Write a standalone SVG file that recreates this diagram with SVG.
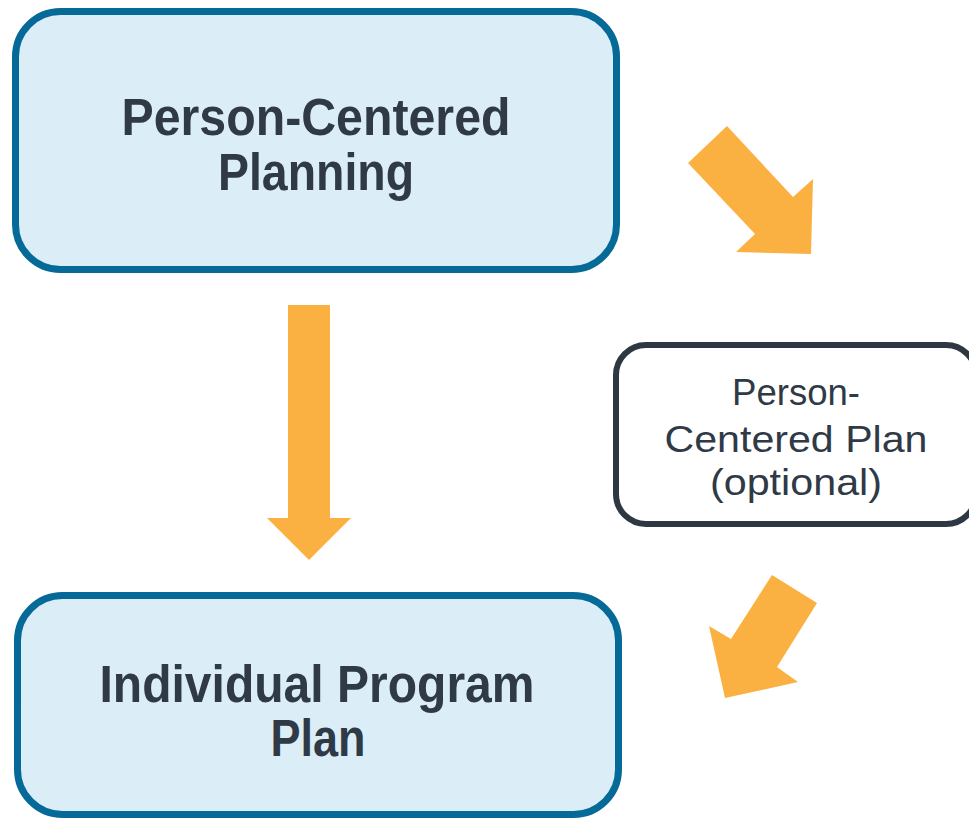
<svg xmlns="http://www.w3.org/2000/svg" width="969" height="819" viewBox="0 0 969 819">
<style>
.main{fill:#dbeef8;stroke:#056a98;stroke-width:7}
.side{fill:#ffffff;stroke:#2e3843;stroke-width:6}
.arrow{fill:#fbb141}
.bt{font-family:"Liberation Sans",Arial,sans-serif;font-weight:bold;font-size:51px;fill:#2f3a46;text-anchor:middle}
.rt{font-family:"Liberation Sans",Arial,sans-serif;font-size:37px;fill:#2f3a46;text-anchor:middle}
</style>
<rect width="969" height="819" fill="#ffffff"/>
<g id="connectors">
<polygon class="arrow" points="288,305 330,305 330,518 351,518 309,560 267,518 288,518"/>
<polygon class="arrow" points="727,126 688,163 755,234 736,252 811,254 813,179 793,197"/>
<polygon class="arrow" points="772,575 817,603 777,667 798,682 725,698 709,626 731,639"/>
</g>
<g id="node-pcp">
<rect class="main" x="15.5" y="11.5" width="601" height="258" rx="45"/>
<text class="bt" x="316" y="135" textLength="389" lengthAdjust="spacingAndGlyphs">Person-Centered</text>
<text class="bt" x="316" y="190" textLength="196" lengthAdjust="spacingAndGlyphs">Planning</text>
</g>
<g id="node-ipp">
<rect class="main" x="17.5" y="595.5" width="601" height="219" rx="45"/>
<text class="bt" x="317" y="702" textLength="435" lengthAdjust="spacingAndGlyphs">Individual Program</text>
<text class="bt" x="318" y="756" textLength="95" lengthAdjust="spacingAndGlyphs">Plan</text>
</g>
<g id="node-plan">
<rect class="side" x="616" y="345" width="360" height="179" rx="30"/>
<text class="rt" x="796" y="405" textLength="128" lengthAdjust="spacingAndGlyphs">Person-</text>
<text class="rt" x="796" y="452" textLength="263" lengthAdjust="spacingAndGlyphs">Centered Plan</text>
<text class="rt" x="796" y="495" textLength="172" lengthAdjust="spacingAndGlyphs">(optional)</text>
</g>
</svg>
